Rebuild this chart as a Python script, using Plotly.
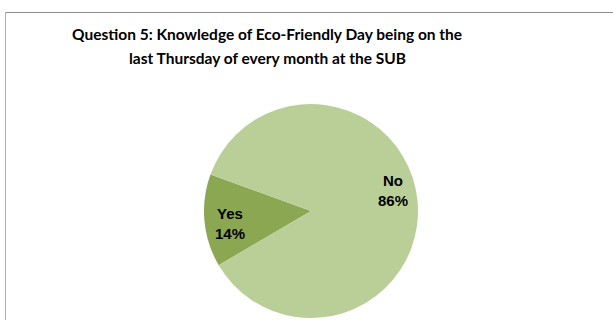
import plotly.graph_objects as go

W, H = 613, 320

# Survey answers (percent of respondents)
labels = ["Yes", "No"]
values = [14, 86]
colors = ["#8BA752", "#B9CF97"]

title_lines = [
    "Question 5: Knowledge of Eco-Friendly Day being on the",
    "last Thursday of every month at the SUB",
]

# pie placement in pixels
cx, cy, r = 311, 211, 107

fig = go.Figure(
    go.Pie(
        labels=labels,
        values=values,
        sort=False,
        direction="counterclockwise",
        rotation=-120.4,
        marker=dict(colors=colors, line=dict(width=0)),
        textinfo="none",
        hoverinfo="label+percent",
        showlegend=False,
        domain=dict(
            x=[(cx - r) / W, (cx + r) / W],
            y=[(H - cy - r) / H, (H - cy + r) / H],
        ),
    )
)

# data labels: category name and share
total = sum(values)
label_pos = {"Yes": (230, 223), "No": (393, 190)}
for lab, val in zip(labels, values):
    px, py = label_pos[lab]
    fig.add_annotation(
        x=px / W, y=1 - py / H, xref="paper", yref="paper",
        text=f"<b>{lab}<br>{round(100 * val / total)}%</b>",
        showarrow=False, align="center",
        font=dict(family="Liberation Sans, Arial, sans-serif", size=15, color="#000000"),
        xanchor="center", yanchor="middle",
    )

# two-line chart title
for line, ty in zip(title_lines, [34, 57.5]):
    fig.add_annotation(
        x=267 / W, y=1 - ty / H, xref="paper", yref="paper",
        text=f"<b>{line}</b>", showarrow=False,
        font=dict(family="Lato, sans-serif", size=15.5, color="#000000"),
        xanchor="center", yanchor="middle",
    )

# chart area frame (top and left edges)
fig.add_shape(type="line", xref="paper", yref="paper",
              x0=5.5 / W, x1=1.0, y0=1 - 12.5 / H, y1=1 - 12.5 / H,
              line=dict(color="#8C8C8C", width=1))
fig.add_shape(type="line", xref="paper", yref="paper",
              x0=5.5 / W, x1=5.5 / W, y0=0, y1=1 - 12.5 / H,
              line=dict(color="#B0B0B0", width=1))

fig.update_layout(
    width=W, height=H,
    margin=dict(l=0, r=0, t=0, b=0),
    paper_bgcolor="#FFFFFF",
    plot_bgcolor="#FFFFFF",
)

fig.write_html("out.html")
